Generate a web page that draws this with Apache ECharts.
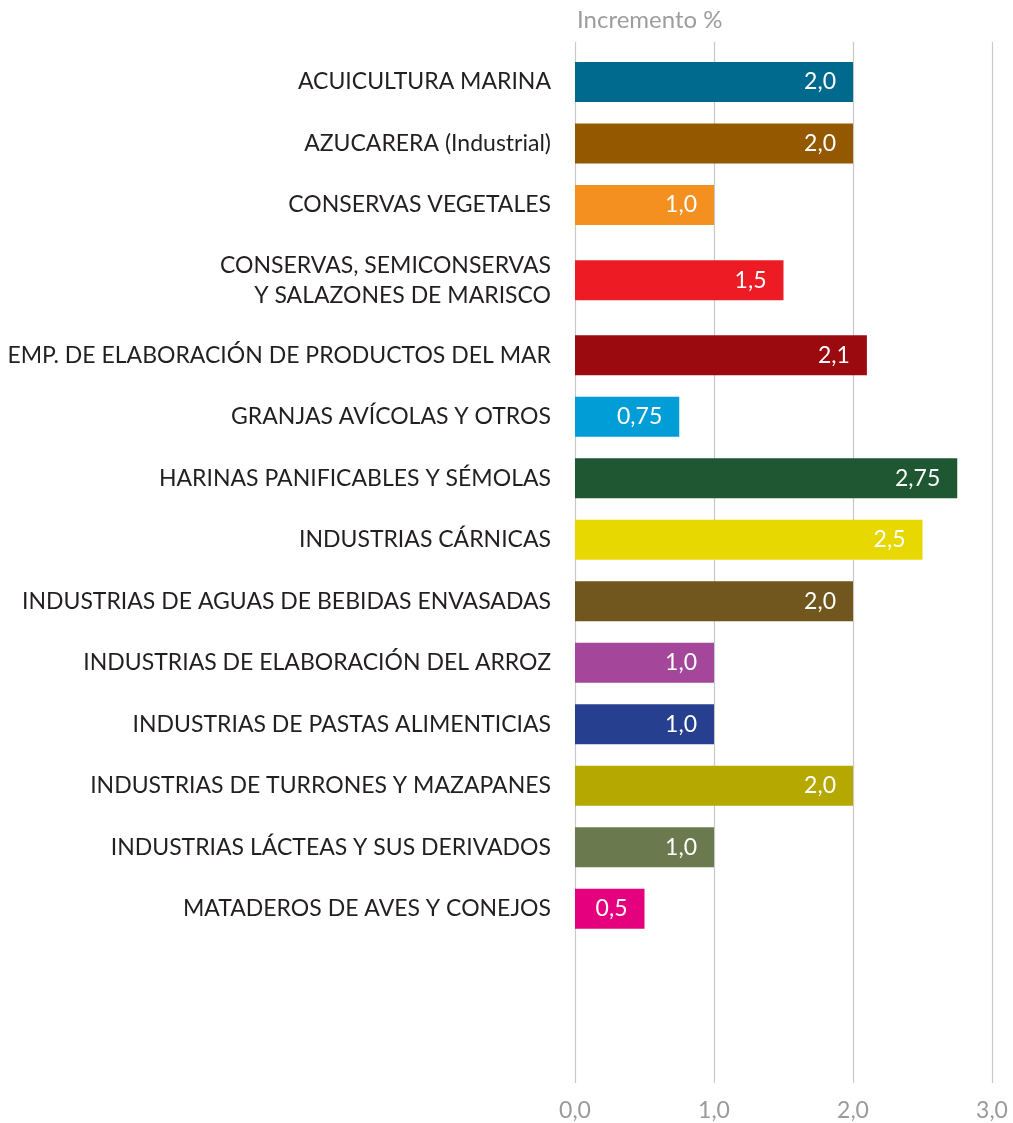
<!DOCTYPE html>
<html>
<head>
<meta charset="utf-8">
<script src="https://cdn.jsdelivr.net/npm/echarts@6/dist/echarts.min.js"></script>
<style>
  html, body { margin: 0; padding: 0; background: #fff; }
  #chart { width: 1013px; height: 1123px; }
</style>
</head>
<body>
<div id="chart"></div>
<script>
// categorias (la de dos lineas lleva salto)
const categories = [
  'ACUICULTURA MARINA',
  'AZUCARERA (Industrial)',
  'CONSERVAS VEGETALES',
  'CONSERVAS, SEMICONSERVAS\nY SALAZONES DE MARISCO',
  'EMP. DE ELABORACIÓN DE PRODUCTOS DEL MAR',
  'GRANJAS AVÍCOLAS Y OTROS',
  'HARINAS PANIFICABLES Y SÉMOLAS',
  'INDUSTRIAS CÁRNICAS',
  'INDUSTRIAS DE AGUAS DE BEBIDAS ENVASADAS',
  'INDUSTRIAS DE ELABORACIÓN DEL ARROZ',
  'INDUSTRIAS DE PASTAS ALIMENTICIAS',
  'INDUSTRIAS DE TURRONES Y MAZAPANES',
  'INDUSTRIAS LÁCTEAS Y SUS DERIVADOS',
  'MATADEROS DE AVES Y CONEJOS'
];
const increments = [2.0, 2.0, 1.0, 1.5, 2.1, 0.75, 2.75, 2.5, 2.0, 1.0, 1.0, 2.0, 1.0, 0.5];
const xTicks = [0, 1, 2, 3];
const axisName = 'Incremento %';

const barColors = [
  '#006a8e', '#935800', '#f39020', '#ed1c24', '#9b0a0e', '#009dd6', '#1f5733',
  '#e6d800', '#71561e', '#a4479a', '#263f8e', '#b5a800', '#6a7a4e', '#e5007d'
];

const FONT = 'Lato';

// numero con coma decimal, minimo un decimal
function fmt(v) {
  let s = String(v);
  if (s.indexOf('.') < 0) s += '.0';
  return s.replace('.', ',');
}

// cada fila ocupa varias ranuras; las de dos lineas, mas
const SLOTS_ONE = 9;
const SLOTS_TWO = 13;
const slotCats = [];
const slotData = [];
categories.forEach(function (c, i) {
  const n = c.indexOf('\n') >= 0 ? SLOTS_TWO : SLOTS_ONE;
  const mid = (n - 1) / 2;
  for (let k = 0; k < n; k++) {
    slotCats.push(k === mid ? c : '');
    slotData.push(k === mid ? { value: increments[i], itemStyle: { color: barColors[i] } } : '-');
  }
});

const slotPx = 61.5 / SLOTS_ONE;

const chart = echarts.init(document.getElementById('chart'));
chart.setOption({
  animation: false,
  title: {
    text: axisName,
    left: 572,
    top: 3,
    textStyle: { fontFamily: FONT, fontSize: 24, fontWeight: 'normal', color: '#9d9d9d' }
  },
  grid: [
    { left: 575, width: 417, top: 42, height: 1041 },
    { left: 575, width: 417, top: 82 - slotPx * (SLOTS_ONE / 2), height: slotPx * slotCats.length }
  ],
  xAxis: [
    {
      gridIndex: 0,
      type: 'value',
      min: xTicks[0],
      max: xTicks[xTicks.length - 1],
      interval: 1,
      axisLine: { show: false },
      axisTick: { show: false },
      splitLine: { show: true, lineStyle: { color: '#c8c8c8', width: 1.2 } },
      axisLabel: {
        margin: 16,
        fontFamily: FONT,
        fontSize: 23,
        color: '#9a9a9a',
        formatter: function (v) { return fmt(v); }
      }
    },
    {
      gridIndex: 1,
      type: 'value',
      min: xTicks[0],
      max: xTicks[xTicks.length - 1],
      show: false
    }
  ],
  yAxis: [
    { gridIndex: 0, type: 'value', show: false },
    {
      gridIndex: 1,
      type: 'category',
      inverse: true,
      data: slotCats,
      axisLine: { show: false },
      axisTick: { show: false },
      splitLine: { show: false },
      axisLabel: {
        interval: 0,
        margin: 24,
        fontFamily: FONT,
        fontSize: 23,
        lineHeight: 30,
        color: '#231f20'
      }
    }
  ],
  series: [
    {
      type: 'bar',
      xAxisIndex: 1,
      yAxisIndex: 1,
      barWidth: 40,
      data: slotData,
      label: {
        show: true,
        position: 'insideRight',
        distance: 17,
        fontFamily: FONT,
        fontSize: 23,
        color: '#ffffff',
        formatter: function (p) { return fmt(p.value); }
      }
    }
  ]
});
</script>
</body>
</html>
